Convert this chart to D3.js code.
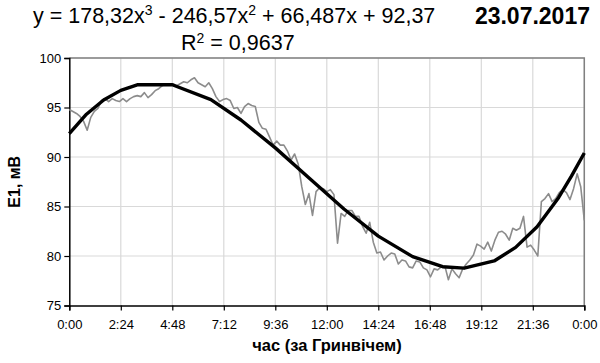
<!DOCTYPE html>
<html><head><meta charset="utf-8">
<script src="https://cdn.jsdelivr.net/npm/d3@7"></script>
<style>
html,body{margin:0;padding:0;background:#fff;}
svg{display:block;font-family:"Liberation Sans",Arial,sans-serif;}
</style></head>
<body><svg id="c" width="600" height="363"></svg>
<script>
// measured series, one value every 10 minutes from 0:00 to 24:00
const stepMinutes = 10;
const measured = [
94.8,94.6,94.4,94.1,93.6,92.7,94.0,94.6,94.9,95.7,95.9,95.6,
95.9,95.7,95.6,95.9,95.6,95.9,96.1,96.2,96.1,96.5,96.0,96.3,
96.7,96.9,97.2,97.4,97.3,97.4,97.2,97.4,97.6,97.5,97.8,98.0,
97.5,97.3,97.1,97.5,96.9,96.1,95.6,95.8,95.9,95.7,94.9,95.0,
94.4,95.1,95.4,95.2,95.1,93.5,92.9,92.8,92.0,91.2,91.6,91.2,
91.2,90.6,89.7,90.3,89.3,87.0,85.2,86.3,84.1,86.5,86.9,86.8,
86.5,86.7,86.2,81.3,84.3,84.0,84.6,84.6,84.0,84.0,83.0,82.3,
83.4,81.4,80.3,80.4,79.6,80.0,80.3,80.2,79.2,79.6,79.5,78.9,
78.8,79.5,79.4,78.8,78.6,77.9,78.7,78.6,78.9,79.0,77.6,78.7,
78.2,77.8,78.7,79.2,79.6,80.1,81.2,81.0,80.7,81.4,80.5,81.6,
82.4,82.5,82.2,81.6,82.8,82.6,82.8,84.0,80.9,81.1,80.6,80.0,
85.5,85.8,86.3,85.5,85.8,86.4,86.7,86.4,85.7,86.8,88.3,87.0,
83.6
];
// trend line vertices (hours, value)
const trendHours  = [0, 0.8, 1.6, 2.4, 3.2, 4.8, 6.6, 8.0, 9.6, 11.2, 12.8, 14.4, 16.0, 17.4, 18.4, 19.8, 20.8, 21.8, 22.8, 23.4, 24];
const trendValues = [92.37, 94.32, 95.76, 96.73, 97.3, 97.3, 95.8, 93.74, 90.92, 87.82, 84.75, 82.01, 79.94, 78.92, 78.77, 79.5, 80.87, 82.96, 85.89, 88.07, 90.4];
const xTickHours  = [0, 2.4, 4.8, 7.2, 9.6, 12, 14.4, 16.8, 19.2, 21.6, 24];
const xTickLabels = ["0:00","2:24","4:48","7:12","9:36","12:00","14:24","16:48","19:12","21:36","0:00"];
const yTicks = [75, 80, 85, 90, 95, 100];

const svg = d3.select("#c");
const L = 69.3, R = 584.3, T = 58, B = 305.5;
const x = d3.scaleLinear().domain([0, 24]).range([L, R]);
const y = d3.scaleLinear().domain([75, 100]).range([B, T]);

// gridlines
svg.append("g").selectAll("line").data(yTicks.slice(1)).join("line")
  .attr("x1", L).attr("x2", R).attr("y1", d => y(d)).attr("y2", d => y(d))
  .attr("stroke", "#d9d9d9").attr("stroke-width", 1.2);
svg.append("g").selectAll("line").data(xTickHours.slice(1)).join("line")
  .attr("y1", T).attr("y2", B).attr("x1", d => x(d)).attr("x2", d => x(d))
  .attr("stroke", "#d9d9d9").attr("stroke-width", 1.2);
// plot border (top/right)
svg.append("path").attr("d", `M${L},${T}H${R}V${B}`).attr("fill","none")
  .attr("stroke", "#808080").attr("stroke-width", 1.5);

// axes
const xAxis = d3.axisBottom(x).tickValues(xTickHours).tickFormat((d,i) => xTickLabels[i]).tickSizeOuter(0).tickSize(5).tickPadding(9);
const gx = svg.append("g").attr("transform", `translate(0,${B})`).call(xAxis);
const yAxis = d3.axisLeft(y).tickValues(yTicks).tickSizeOuter(0).tickSize(5).tickPadding(3);
const gy = svg.append("g").attr("transform", `translate(${L},0)`).call(yAxis);
[gx, gy].forEach(g => {
  g.select(".domain").attr("stroke", "#000").attr("stroke-width", 1.5);
  g.selectAll(".tick line").attr("stroke", "#000").attr("stroke-width", 1.2);
  g.selectAll("text").attr("font-family", "Liberation Sans, Arial, sans-serif").attr("font-size", 13).attr("fill", "#000");
});

// measured line
const line = d3.line().x(d => x(d[0])).y(d => y(d[1]));
svg.append("path")
  .datum(measured.map((v, i) => [i * stepMinutes / 60, v]))
  .attr("d", line).attr("fill", "none").attr("stroke", "#8c8c8c").attr("stroke-width", 1.6).attr("stroke-linejoin","round");
// trend line
svg.append("path")
  .datum(trendHours.map((h, i) => [h, trendValues[i]]))
  .attr("d", line).attr("fill", "none").attr("stroke", "#000").attr("stroke-width", 3.4).attr("stroke-linejoin","round");

// titles
const eq = svg.append("text").attr("x", 33).attr("y", 23).attr("font-size", 21.5).attr("fill","#000");
eq.append("tspan").text("y = 178,32x");
eq.append("tspan").text("3").attr("font-size", 14).attr("dy", -8);
eq.append("tspan").text(" - 246,57x").attr("dy", 8);
eq.append("tspan").text("2").attr("font-size", 14).attr("dy", -8);
eq.append("tspan").text(" + 66,487x + 92,37").attr("dy", 8);
const r2 = svg.append("text").attr("x", 181).attr("y", 50).attr("font-size", 21.5).attr("fill","#000");
r2.append("tspan").text("R");
r2.append("tspan").text("2").attr("font-size", 14).attr("dy", -7);
r2.append("tspan").text(" = 0,9637").attr("dy", 7);
svg.append("text").attr("x", 590).attr("y", 24).attr("text-anchor","end")
  .attr("font-size", 23).attr("font-weight","bold").text("23.07.2017");
svg.append("text").attr("x", 327).attr("y", 351).attr("text-anchor","middle")
  .attr("font-size", 16.5).attr("font-weight","bold").text("час (за Гринвічем)");
svg.append("text").attr("transform", `translate(20,${(T+B)/2}) rotate(-90)`).attr("text-anchor","middle")
  .attr("font-size", 16).attr("font-weight","bold").text("E1, мВ");
</script></body></html>
